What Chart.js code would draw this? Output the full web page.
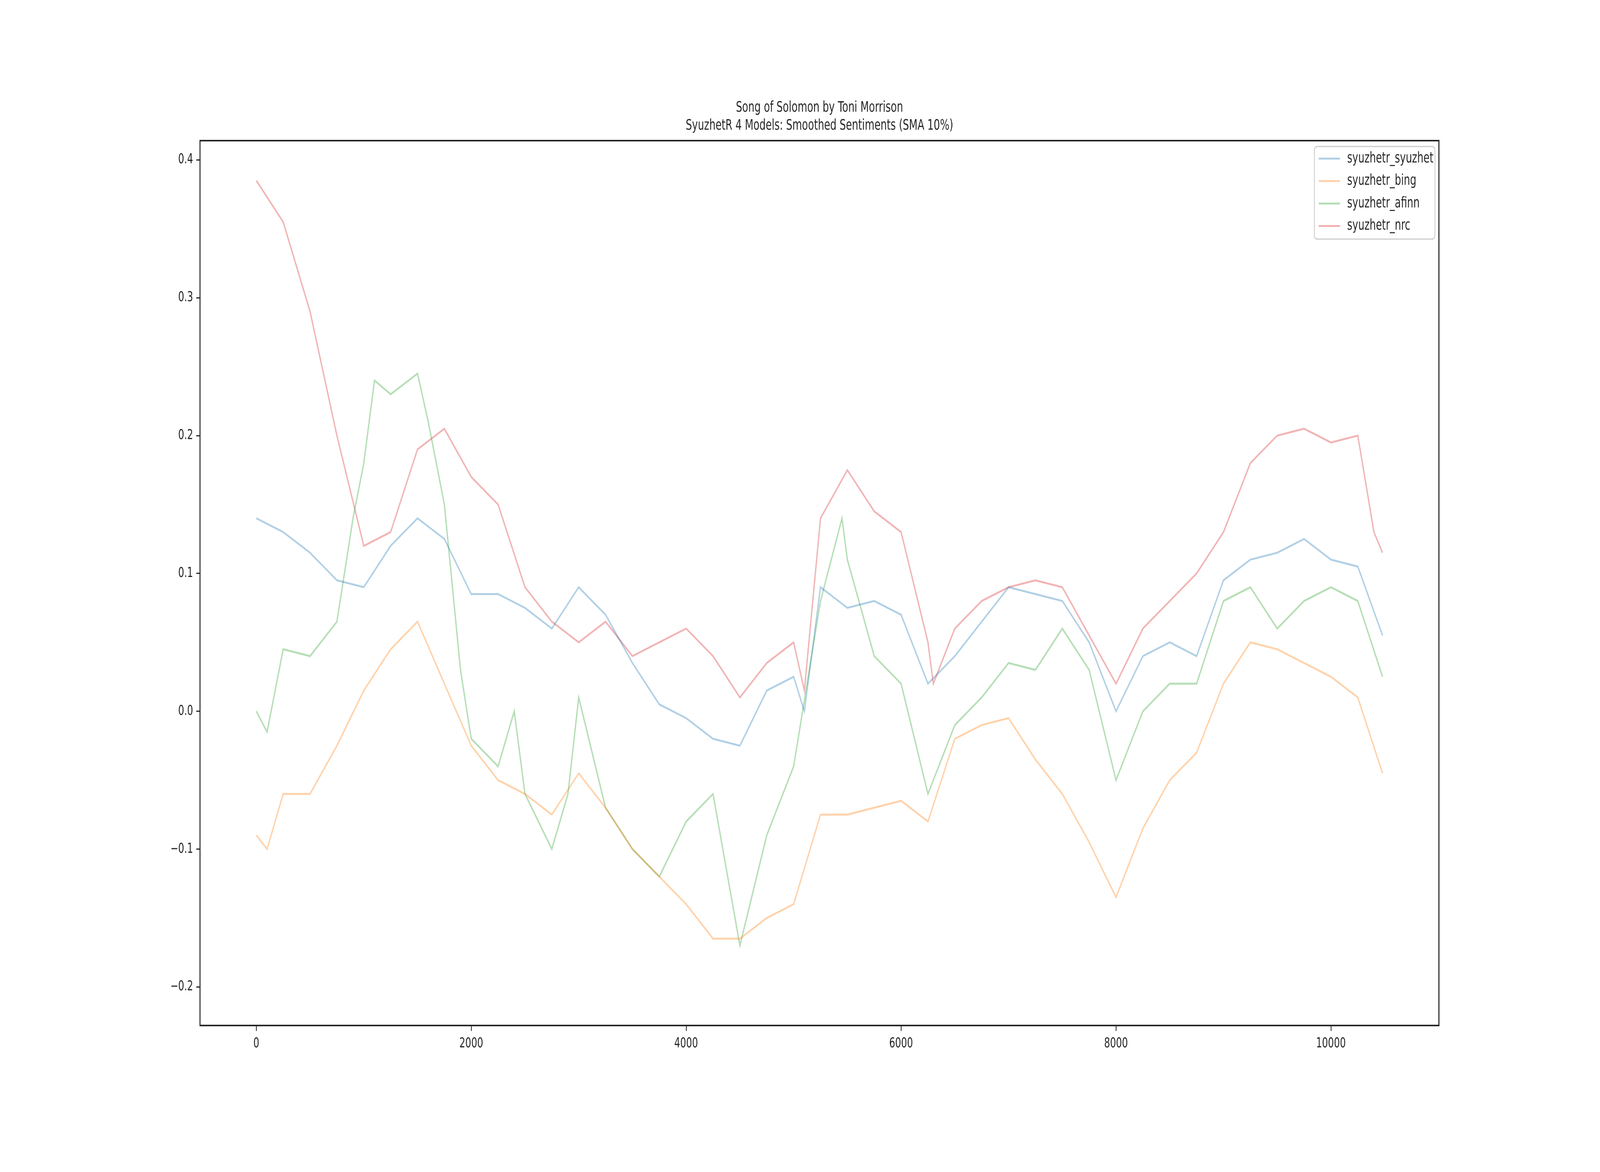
<!DOCTYPE html>
<html>
<head>
<meta charset="utf-8">
<script src="https://cdn.jsdelivr.net/npm/chart.js@4"></script>
<style>
html,body{margin:0;padding:0;background:#fff;overflow:hidden}
#chart{position:fixed;left:0;top:0;width:100vw !important;height:100vh !important}
</style>
</head>
<body>
<canvas id="chart" width="6000" height="3000"></canvas>
<script>
const syuzhetX = [0,250,500,750,1000,1250,1500,1750,2000,2250,2500,2750,3000,3250,3500,3750,4000,4250,4500,4750,5000,5100,5250,5500,5750,6000,6250,6500,6750,7000,7250,7500,7750,8000,8250,8500,8750,9000,9250,9500,9750,10000,10250,10480];
const syuzhetY = [0.14,0.13,0.115,0.095,0.09,0.12,0.14,0.125,0.085,0.085,0.075,0.06,0.09,0.07,0.035,0.005,-0.005,-0.02,-0.025,0.015,0.025,0.0,0.09,0.075,0.08,0.07,0.02,0.04,0.065,0.09,0.085,0.08,0.05,0.0,0.04,0.05,0.04,0.095,0.11,0.115,0.125,0.11,0.105,0.055];

const bingX = [0,100,250,500,750,1000,1250,1500,1750,2000,2250,2500,2750,3000,3250,3500,3750,4000,4250,4500,4750,5000,5250,5500,5750,6000,6250,6500,6750,7000,7250,7500,7750,8000,8250,8500,8750,9000,9250,9500,9750,10000,10250,10480];
const bingY = [-0.09,-0.1,-0.06,-0.06,-0.025,0.015,0.045,0.065,0.02,-0.025,-0.05,-0.06,-0.075,-0.045,-0.07,-0.1,-0.12,-0.14,-0.165,-0.165,-0.15,-0.14,-0.075,-0.075,-0.07,-0.065,-0.08,-0.02,-0.01,-0.005,-0.035,-0.06,-0.095,-0.135,-0.085,-0.05,-0.03,0.02,0.05,0.045,0.035,0.025,0.01,-0.045];

const afinnX = [0,100,250,500,750,900,1000,1100,1250,1500,1600,1750,1900,2000,2250,2400,2500,2750,2900,3000,3250,3500,3750,4000,4250,4500,4750,5000,5250,5450,5500,5750,6000,6250,6500,6750,7000,7250,7500,7750,8000,8250,8500,8750,9000,9250,9500,9750,10000,10250,10480];
const afinnY = [0.0,-0.015,0.045,0.04,0.065,0.14,0.18,0.24,0.23,0.245,0.21,0.15,0.03,-0.02,-0.04,0.0,-0.06,-0.1,-0.06,0.01,-0.07,-0.1,-0.12,-0.08,-0.06,-0.17,-0.09,-0.04,0.08,0.14,0.11,0.04,0.02,-0.06,-0.01,0.01,0.035,0.03,0.06,0.03,-0.05,0.0,0.02,0.02,0.08,0.09,0.06,0.08,0.09,0.08,0.025];

const nrcX = [0,250,500,750,1000,1250,1500,1750,2000,2250,2500,2750,3000,3250,3500,3750,4000,4250,4500,4750,5000,5100,5250,5500,5750,6000,6250,6300,6500,6750,7000,7250,7500,7750,8000,8250,8500,8750,9000,9250,9500,9750,10000,10250,10400,10480];
const nrcY = [0.385,0.355,0.29,0.2,0.12,0.13,0.19,0.205,0.17,0.15,0.09,0.065,0.05,0.065,0.04,0.05,0.06,0.04,0.01,0.035,0.05,0.015,0.14,0.175,0.145,0.13,0.05,0.02,0.06,0.08,0.09,0.095,0.09,0.055,0.02,0.06,0.08,0.1,0.13,0.18,0.2,0.205,0.195,0.2,0.13,0.115];

const seriesNames = ['syuzhetr_syuzhet','syuzhetr_bing','syuzhetr_afinn','syuzhetr_nrc'];
const seriesColors = ['rgba(31,119,180,0.35)','rgba(255,127,14,0.35)','rgba(44,160,44,0.35)','rgba(214,39,40,0.35)'];
const titleLines = ['Song of Solomon by Toni Morrison','SyuzhetR 4 Models: Smoothed Sentiments (SMA 10%)'];
const xTicks = [0,2000,4000,6000,8000,10000];
const yTicks = [-0.2,-0.1,0.0,0.1,0.2,0.3,0.4];

function pts(xs, ys){
    var out = [];
    for(var i = 0; i < xs.length; i++) out.push({x: xs[i], y: ys[i]});
    return out;
}
const allX = [syuzhetX, bingX, afinnX, nrcX];
const allY = [syuzhetY, bingY, afinnY, nrcY];
var datasets = [];
for(var i = 0; i < 4; i++){
    datasets.push({label: seriesNames[i], data: pts(allX[i], allY[i]), borderColor: seriesColors[i],
        backgroundColor: 'transparent', borderWidth: 5, pointRadius: 0, tension: 0});
}

const FONT = '"DejaVu Sans", sans-serif';

const decor = {
    id: 'decor',
    afterDraw(chart){
        const c = chart.ctx, a = chart.chartArea;
        c.save();
        c.strokeStyle = '#262626'; c.lineWidth = 4;
        c.strokeRect(a.left, a.top, a.right - a.left, a.bottom - a.top);
        c.fillStyle = '#262626'; c.font = '37px ' + FONT;
        c.textAlign = 'center'; c.textBaseline = 'middle';
        const cx = (a.left + a.right) / 2;
        c.fillText(titleLines[0], cx, 276);
        c.fillText(titleLines[1], cx, 322);
        // legend
        const lx = 4929, ly = 375, lw = 452, lh = 237;
        c.fillStyle = 'rgba(255,255,255,0.8)';
        c.strokeStyle = '#cccccc'; c.lineWidth = 3;
        c.beginPath(); c.roundRect(lx, ly, lw, lh, 10); c.fill(); c.stroke();
        c.textAlign = 'left';
        for(var i = 0; i < 4; i++){
            const y = 406 + i * 57.5;
            c.strokeStyle = seriesColors[i]; c.lineWidth = 5;
            c.beginPath(); c.moveTo(4945, y); c.lineTo(5025, y); c.stroke();
            c.fillStyle = '#262626';
            c.fillText(seriesNames[i], 5052, y);
        }
        c.restore();
    }
};

new Chart(document.getElementById('chart').getContext('2d'), {
    type: 'line',
    data: {datasets: datasets},
    options: {
        responsive: false, animation: false, devicePixelRatio: 1,
        layout: {padding: {top: 360, right: 604, left: 0, bottom: 0}},
        plugins: {legend: {display: false}, title: {display: false}, tooltip: {enabled: false}},
        scales: {
            x: {
                type: 'linear', min: -524, max: 11005,
                afterBuildTicks: function(s){ s.ticks = xTicks.map(v => ({value: v})); },
                afterFit: function(s){ s.height = 375; },
                grid: {drawOnChartArea: false, tickLength: 14, tickColor: '#262626', lineWidth: 3},
                border: {display: false},
                ticks: {color: '#262626', font: {size: 35, family: FONT}, padding: 12, maxRotation: 0,
                    callback: v => String(v)}
            },
            y: {
                type: 'linear', min: -0.228, max: 0.414,
                afterBuildTicks: function(s){ s.ticks = yTicks.map(v => ({value: v})); },
                afterFit: function(s){ s.width = 750; },
                grid: {drawOnChartArea: false, tickLength: 14, tickColor: '#262626', lineWidth: 3},
                border: {display: false},
                ticks: {color: '#262626', font: {size: 35, family: FONT}, padding: 12,
                    callback: v => (v < 0 ? '\u2212' : '') + Math.abs(v).toFixed(1)}
            }
        }
    },
    plugins: [decor]
});
</script>
</body>
</html>
